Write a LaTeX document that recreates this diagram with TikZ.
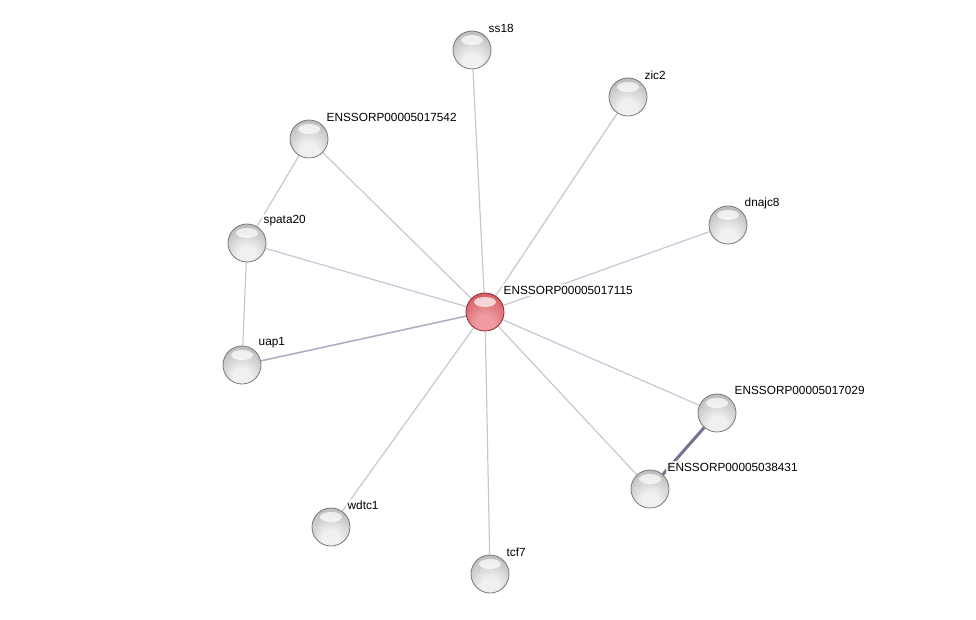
\documentclass[tikz,border=0pt]{standalone}
\usepackage{fontspec}
\setmainfont{Liberation Sans}
\usetikzlibrary{positioning, backgrounds, shapes.geometric}
\definecolor{edgegray}{RGB}{200,198,214}
\definecolor{edgedark}{RGB}{115,115,145}
\definecolor{edgemid}{RGB}{180,172,196}
\definecolor{protrim}{RGB}{120,120,120}
\definecolor{proten}{RGB}{155,155,155}
\definecolor{protmid}{RGB}{190,190,190}
\definecolor{protlight}{RGB}{240,240,240}
\definecolor{redrim}{RGB}{140,45,50}
\definecolor{reden}{RGB}{185,68,74}
\definecolor{redmid}{RGB}{212,96,102}
\definecolor{redlight}{RGB}{240,155,160}
\pgfdeclareradialshading{protball}{\pgfpoint{0bp}{-20bp}}{%
  color(0bp)=(protlight); color(12bp)=(protlight);
  color(34bp)=(protmid); color(56bp)=(proten); color(72bp)=(proten)}
\pgfdeclareradialshading{hubball}{\pgfpoint{0bp}{-20bp}}{%
  color(0bp)=(redlight); color(12bp)=(redlight);
  color(34bp)=(redmid); color(56bp)=(reden); color(72bp)=(reden)}

\begin{document}
\begin{tikzpicture}[
  x=1pt, y=-1pt,
  prot/.style={
    circle, minimum size=38pt, inner sep=0pt,
    shading=protball, draw=protrim, line width=0.8pt
  },
  hub/.style={prot, shading=hubball, draw=redrim},
  shine/.style={ellipse, minimum width=22pt, minimum height=10pt,
    inner sep=0pt, fill=white, opacity=0.7},
  tag/.style={
    font=\fontsize{11.8}{13}\selectfont,
    fill=white, fill opacity=0.8, text opacity=1,
    inner sep=1.5pt
  },
  edge/.style={edgegray, line width=1.2pt},
  midedge/.style={edgemid, line width=1.6pt},
  strongedge/.style={edgedark, line width=3pt}
]
\useasboundingbox (0,0) rectangle (976,620);
% proteins
\node[hub]  (e115)   at (485,312) {};
\node[prot] (ss18)   at (472,50)  {};
\node[prot] (zic2)   at (628,97)  {};
\node[prot] (dnajc8) at (728,225) {};
\node[prot] (e542)   at (309,139) {};
\node[prot] (spata20) at (247,243) {};
\node[prot] (uap1)   at (242,365) {};
\node[prot] (e029)   at (717,413) {};
\node[prot] (e431)   at (650,489) {};
\node[prot] (wdtc1)  at (331,527) {};
\node[prot] (tcf7)   at (490,574) {};
% highlights
\node[shine] (e115-s)    at ([yshift=10pt]e115)    {};
\node[shine] (ss18-s)    at ([yshift=10pt]ss18)    {};
\node[shine] (zic2-s)    at ([yshift=10pt]zic2)    {};
\node[shine] (dnajc8-s)  at ([yshift=10pt]dnajc8)  {};
\node[shine] (e542-s)    at ([yshift=10pt]e542)    {};
\node[shine] (spata20-s) at ([yshift=10pt]spata20) {};
\node[shine] (uap1-s)    at ([yshift=10pt]uap1)    {};
\node[shine] (e029-s)    at ([yshift=10pt]e029)    {};
\node[shine] (e431-s)    at ([yshift=10pt]e431)    {};
\node[shine] (wdtc1-s)   at ([yshift=10pt]wdtc1)   {};
\node[shine] (tcf7-s)    at ([yshift=10pt]tcf7)    {};
% labels
\node[tag, anchor=west] (e115-l)    at (502,290) {ENSSORP00005017115};
\node[tag, anchor=west] (ss18-l)    at (487,28)  {ss18};
\node[tag, anchor=west] (zic2-l)    at (643,75)  {zic2};
\node[tag, anchor=west] (dnajc8-l)  at (743,203) {dnajc8};
\node[tag, anchor=west] (e542-l)    at (325,117) {ENSSORP00005017542};
\node[tag, anchor=west] (spata20-l) at (262,221) {spata20};
\node[tag, anchor=west] (uap1-l)    at (257,343) {uap1};
\node[tag, anchor=west] (e029-l)    at (733,390) {ENSSORP00005017029};
\node[tag, anchor=west] (e431-l)    at (666,467) {ENSSORP00005038431};
\node[tag, anchor=west] (wdtc1-l)   at (346,505) {wdtc1};
\node[tag, anchor=west] (tcf7-l)    at (505,552) {tcf7};
% interactions
\begin{scope}[on background layer]
\draw[edge] (e115) -- (ss18);
\draw[edge] (e115) -- (zic2);
\draw[edge] (e115) -- (dnajc8);
\draw[edge] (e115) -- (e542);
\draw[edge] (e115) -- (spata20);
\draw[midedge] (e115) -- (uap1);
\draw[edge] (e115) -- (e029);
\draw[edge] (e115) -- (e431);
\draw[edge] (e115) -- (wdtc1);
\draw[edge] (e115) -- (tcf7);
\draw[edge] (e542) -- (spata20);
\draw[edge] (spata20) -- (uap1);
\draw[strongedge] (e029) -- (e431);
\end{scope}
\end{tikzpicture}
\end{document}
